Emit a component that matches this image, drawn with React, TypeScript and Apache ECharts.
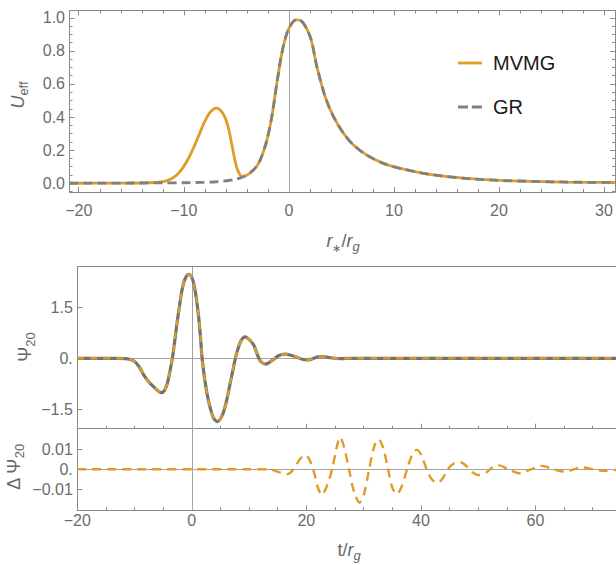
import React, { useEffect, useRef } from "react";
import * as echarts from "echarts";

// ---------------- data ----------------
// Top panel: effective potential vs tortoise coordinate
const rStarGR = [-20.88, -16, -12, -10, -8.44, -6.85, -5.27, -4.32, -3.37, -2.73, -2.09, -1.62, -1.14, -0.67, -0.19, 0.29, 0.69, 1.08, 2.03, 2.67, 3.46, 4.25, 5.2, 6.15, 7.42, 9.0, 10.6, 13.76, 16.9, 20.1, 23.3, 26.5, 30.1, 31.05];
const uGR = [0, 0.001, 0.002, 0.003, 0.005, 0.009, 0.021, 0.039, 0.08, 0.14, 0.261, 0.402, 0.604, 0.785, 0.906, 0.967, 0.987, 0.985, 0.886, 0.704, 0.523, 0.402, 0.302, 0.231, 0.17, 0.12, 0.09, 0.05, 0.029, 0.017, 0.011, 0.007, 0.005, 0.005];

const rStarMVMG = [-20.88, -16, -13.2, -12.2, -11.6, -11.1, -10.6, -10.1, -9.6, -9.1, -8.6, -8.1, -7.6, -7.2, -6.9, -6.6, -6.3, -6.0, -5.7, -5.4, -5.1, -4.85, -4.6, -4.4, -3.37, -2.73, -2.09, -1.62, -1.14, -0.67, -0.19, 0.29, 0.69, 1.08, 2.03, 2.67, 3.46, 4.25, 5.2, 6.15, 7.42, 9.0, 10.6, 13.76, 16.9, 20.1, 23.3, 26.5, 30.1, 31.05];
const uMVMG = [0, 0.001, 0.003, 0.008, 0.016, 0.03, 0.055, 0.092, 0.145, 0.21, 0.285, 0.36, 0.42, 0.447, 0.454, 0.447, 0.425, 0.385, 0.32, 0.225, 0.13, 0.075, 0.048, 0.04, 0.08, 0.14, 0.261, 0.402, 0.604, 0.785, 0.906, 0.967, 0.987, 0.985, 0.886, 0.704, 0.523, 0.402, 0.302, 0.231, 0.17, 0.12, 0.09, 0.05, 0.029, 0.017, 0.011, 0.007, 0.005, 0.005];

// Bottom panel: waveform Psi_20 vs t
const tPsi = [-20, -13, -11.5, -10.1, -9.2, -8.4, -7.5, -6.6, -5.9, -5.3, -4.8, -4.3, -3.9, -3.4, -2.9, -2.55, -2.1, -1.7, -1.2, -0.55, 0, 0.4, 0.8, 1.2, 1.5, 1.8, 2.2, 2.7, 3.2, 3.8, 4.5, 5.1, 5.6, 6.2, 6.75, 7.2, 7.6, 8.1, 8.6, 9.25, 9.9, 10.8, 11.7, 12.2, 12.9, 13.5, 14.2, 15.2, 16.3, 17.3, 18.2, 19.3, 20.2, 21, 22, 23, 24, 26, 28, 75];
const psi20 = [0, 0, -0.01, -0.08, -0.25, -0.49, -0.7, -0.85, -0.96, -1.01, -0.95, -0.75, -0.45, 0, 0.62, 1.08, 1.6, 2.02, 2.33, 2.47, 2.38, 2.15, 1.75, 1.2, 0.65, 0, -0.55, -1.08, -1.45, -1.76, -1.86, -1.75, -1.55, -1.15, -0.69, -0.33, 0, 0.3, 0.52, 0.63, 0.57, 0.39, 0, -0.12, -0.17, -0.13, -0.04, 0.08, 0.12, 0.09, 0.04, -0.03, -0.05, -0.02, 0.04, 0.05, 0.02, -0.01, 0, 0];

// Bottom panel: difference Delta Psi_20 vs t
const tDPsi = [-20, 10, 13, 14, 15, 16, 16.6, 17.3, 18.2, 19, 19.8, 20.5, 21.3, 22, 22.7, 23.5, 24.5, 25.3, 25.9, 26.6, 27.4, 28.4, 29.3, 30.1, 30.9, 31.8, 32.6, 33.4, 34.2, 35, 35.8, 36.6, 37.6, 38.5, 39.3, 40.1, 41, 41.9, 42.8, 43.7, 44.7, 45.8, 46.9, 48, 49, 50.1, 51.5, 52.5, 53.5, 55.3, 57.3, 59.2, 61.1, 63.2, 65.2, 66.7, 68.1, 70, 72.2, 75];
const dPsi20 = [0, 0, 0, -0.0002, -0.0012, -0.0022, -0.0024, -0.0015, 0.002, 0.0055, 0.0072, 0.005, -0.0012, -0.009, -0.0128, -0.009, 0, 0.011, 0.016, 0.011, 0.0005, -0.012, -0.0167, -0.012, -0.001, 0.011, 0.015, 0.011, 0.001, -0.009, -0.0124, -0.009, 0, 0.0075, 0.0097, 0.007, 0, -0.005, -0.0067, -0.005, 0, 0.003, 0.0035, 0.0015, -0.0015, -0.0029, -0.0015, 0.001, 0.0021, 0, -0.002, 0, 0.0017, 0, -0.0012, 0, 0.001, 0, -0.0008, 0.0002];

// Ticks
const rTicksMajor = [-20, -10, 0, 10, 20, 30];
const rTicksMinor = [-18, -16, -14, -12, -8, -6, -4, -2, 2, 4, 6, 8, 12, 14, 16, 18, 22, 24, 26, 28];
const uTicksMajor = [0, 0.2, 0.4, 0.6, 0.8, 1.0];
const uTicksMinor = [-0.05, 0.05, 0.1, 0.15, 0.25, 0.3, 0.35, 0.45, 0.5, 0.55, 0.65, 0.7, 0.75, 0.85, 0.9, 0.95];
const tTicksMajor = [-20, 0, 20, 40, 60];
const tTicksMinor = [-15, -10, -5, 5, 10, 15, 25, 30, 35, 45, 50, 55, 65, 70];
const psiTicks = [-1.5, 0, 1.5];
const dPsiTicks = [-0.01, 0, 0.01];

// ---------------- styling ----------------
const FONT = '"Liberation Sans", Arial, sans-serif';
const FRAME = "#8a8a8a";
const ZERO = "#a3a3a3";
const LABEL = "#6b6b6b";
const ORANGE = "#e09c24";
const GRAY = "#808080";
const GRAY_DARK = "#737373";

const zip = (xs: number[], ys: number[]) => xs.map((x, i) => [x, ys[i]]);
const minus = (s: string) => s.replace("-", "\u2212");

type AxCfg = {
  line?: boolean;
  ticks?: number[];
  tickLen?: number;
  labels?: number[];
  fmt?: (v: number) => string;
  margin?: number;
};

function axis(grid: number, position: string, min: number, max: number, cfg: AxCfg) {
  return {
    type: "value",
    gridIndex: grid,
    position,
    min,
    max,
    axisLine: { show: !!cfg.line, onZero: false, lineStyle: { color: FRAME, width: 1 } },
    axisTick: cfg.ticks
      ? { show: true, inside: true, length: cfg.tickLen ?? 5, customValues: cfg.ticks, lineStyle: { color: FRAME, width: 1 } }
      : { show: false },
    axisLabel: cfg.labels
      ? {
          show: true,
          customValues: cfg.labels,
          formatter: cfg.fmt,
          margin: cfg.margin ?? 5,
          color: LABEL,
          fontSize: 16,
          fontFamily: FONT,
        }
      : { show: false },
    splitLine: { show: false },
    minorTick: { show: false },
    minorSplitLine: { show: false },
    axisPointer: { show: false },
  };
}

const R_MIN = -20.88, R_MAX = 31.05;
const U_MIN = -0.053, U_MAX = 1.044;
const T_MIN = -20, T_MAX = 75;
const P_MIN = -2.071, P_MAX = 2.694;
const D_MIN = -0.0205, D_MAX = 0.0203;

const fmtU = (v: number) => v.toFixed(1);
const fmtR = (v: number) => minus(String(v));
const fmtP = (v: number) => (v === 0 ? "0." : minus(String(v)));

const zeroLines = (data: any[]) => ({
  silent: true,
  symbol: ["none", "none"],
  label: { show: false },
  lineStyle: { color: ZERO, width: 1, type: "solid" },
  emphasis: { disabled: true },
  animation: false,
  z: 1,
  data,
});

const lineBase = {
  type: "line",
  showSymbol: false,
  symbol: "none",
  smooth: 0.3,
  clip: true,
  silent: true,
  animation: false,
};

const T = { fill: "#666666", fontFamily: FONT };
const rich = {
  i: { ...T, fontSize: 18, fontStyle: "italic", lineHeight: 24 },
  n: { ...T, fontSize: 18, lineHeight: 24 },
  s: { ...T, fontSize: 13, lineHeight: 13, verticalAlign: "bottom" },
  st: { ...T, fontSize: 11, lineHeight: 13, verticalAlign: "bottom" },
  si: { ...T, fontSize: 13, lineHeight: 13, fontStyle: "italic", verticalAlign: "bottom" },
};
const title = (text: string, x: number, y: number, rot = 0) => ({
  type: "text",
  x,
  y,
  rotation: rot,
  silent: true,
  style: { text, rich, align: "center", verticalAlign: "middle" },
});

// legend icons: a solid stroke and a two-dash stroke (bounding box 24 x 14)
const ICON_SOLID = "path://M0,0M24,14M0,5.6h24v2.8h-24z";
const ICON_DASH = "path://M0,0M24,14M0,5.6h10v2.8h-10zM13.8,5.6h10.2v2.8h-10.2z";

const option: any = {
  animation: false,
  grid: [
    { left: 69.5, top: 10.5, width: 545.5, height: 181.5, outerBoundsMode: "none" },
    { left: 77.3, top: 266.7, width: 544, height: 162, outerBoundsMode: "none" },
    { left: 77.3, top: 428.7, width: 544, height: 81.6, outerBoundsMode: "none" },
  ],
  xAxis: [
    axis(0, "bottom", R_MIN, R_MAX, { line: true, ticks: rTicksMajor, tickLen: 5, labels: rTicksMajor, fmt: fmtR, margin: 10 }),
    axis(0, "bottom", R_MIN, R_MAX, { ticks: rTicksMinor, tickLen: 3 }),
    axis(0, "top", R_MIN, R_MAX, { line: true, ticks: rTicksMajor, tickLen: 5 }),
    axis(0, "top", R_MIN, R_MAX, { ticks: rTicksMinor, tickLen: 3 }),
    axis(1, "bottom", T_MIN, T_MAX, { line: true, ticks: tTicksMajor, tickLen: 5 }),
    axis(1, "bottom", T_MIN, T_MAX, { ticks: tTicksMinor, tickLen: 3 }),
    axis(1, "top", T_MIN, T_MAX, { line: true }),
    axis(2, "bottom", T_MIN, T_MAX, { line: true, ticks: tTicksMajor, tickLen: 5, labels: tTicksMajor, fmt: fmtR, margin: 2.5 }),
    axis(2, "bottom", T_MIN, T_MAX, { ticks: tTicksMinor, tickLen: 3 }),
  ],
  yAxis: [
    axis(0, "left", U_MIN, U_MAX, { line: true, ticks: uTicksMajor, tickLen: 5, labels: uTicksMajor, fmt: fmtU, margin: 4.5 }),
    axis(0, "left", U_MIN, U_MAX, { ticks: uTicksMinor, tickLen: 3 }),
    axis(0, "right", U_MIN, U_MAX, { line: true, ticks: uTicksMajor, tickLen: 5 }),
    axis(0, "right", U_MIN, U_MAX, { ticks: uTicksMinor, tickLen: 3 }),
    axis(1, "left", P_MIN, P_MAX, { line: true, ticks: psiTicks, tickLen: 5, labels: psiTicks, fmt: fmtP, margin: 4.5 }),
    axis(2, "left", D_MIN, D_MAX, { line: true, ticks: dPsiTicks, tickLen: 5, labels: dPsiTicks, fmt: fmtP, margin: 4.5 }),
  ],
  legend: {
    data: [
      { name: "MVMG", icon: ICON_SOLID },
      { name: "GR", icon: ICON_DASH },
    ],
    orient: "vertical",
    left: 458,
    top: 53,
    padding: 0,
    itemWidth: 24,
    itemHeight: 14,
    itemGap: 24,
    selectedMode: false,
    textStyle: { fontSize: 20, color: "#1a1a1a", fontFamily: FONT, padding: [0, 0, 0, 6] },
  },
  series: [
    {
      ...lineBase,
      name: "MVMG",
      xAxisIndex: 0,
      yAxisIndex: 0,
      z: 3,
      data: zip(rStarMVMG, uMVMG),
      lineStyle: { color: ORANGE, width: 2.8 },
      itemStyle: { color: ORANGE },
      markLine: zeroLines([{ xAxis: 0 }]),
    },
    {
      ...lineBase,
      name: "GR",
      xAxisIndex: 0,
      yAxisIndex: 0,
      z: 4,
      data: zip(rStarGR, uGR),
      lineStyle: { color: GRAY, width: 2.8, type: [9, 5] },
      itemStyle: { color: GRAY },
    },
    {
      ...lineBase,
      name: "Ψ20 GR",
      xAxisIndex: 4,
      yAxisIndex: 4,
      z: 3,
      data: zip(tPsi, psi20),
      lineStyle: { color: GRAY_DARK, width: 3.2 },
      itemStyle: { color: GRAY_DARK },
      markLine: zeroLines([{ xAxis: 0 }, { yAxis: 0 }]),
    },
    {
      ...lineBase,
      name: "Ψ20 MVMG",
      xAxisIndex: 4,
      yAxisIndex: 4,
      z: 4,
      data: zip(tPsi, psi20),
      lineStyle: { color: ORANGE, width: 2.2, type: [7, 6] },
      itemStyle: { color: ORANGE },
    },
    {
      ...lineBase,
      name: "ΔΨ20",
      xAxisIndex: 7,
      yAxisIndex: 5,
      z: 3,
      data: zip(tDPsi, dPsi20),
      lineStyle: { color: ORANGE, width: 2.4, type: [9, 6] },
      itemStyle: { color: ORANGE },
      markLine: zeroLines([{ xAxis: 0 }, { yAxis: 0 }]),
    },
  ],
  graphic: [
    title("{i|U}{s|eff}", 18, 95, Math.PI / 2),
    title("{i|r}{st|\u2217}{n|/}{i|r}{si|g}", 343, 241),
    title("{n|Ψ}{s|20}", 25, 347, Math.PI / 2),
    title("{n|Δ Ψ}{s|20}", 14, 467, Math.PI / 2),
    title("{n|t/}{i|r}{si|g}", 349, 550),
  ],
};

export default function App() {
  const ref = useRef<HTMLDivElement>(null);
  useEffect(() => {
    document.body.style.margin = "0";
    const chart = echarts.init(ref.current as HTMLDivElement, null, { renderer: "svg" });
    chart.setOption(option);
    return () => chart.dispose();
  }, []);
  return <div ref={ref} style={{ position: "absolute", left: 0, top: 0, width: 616, height: 565 }} />;
}
